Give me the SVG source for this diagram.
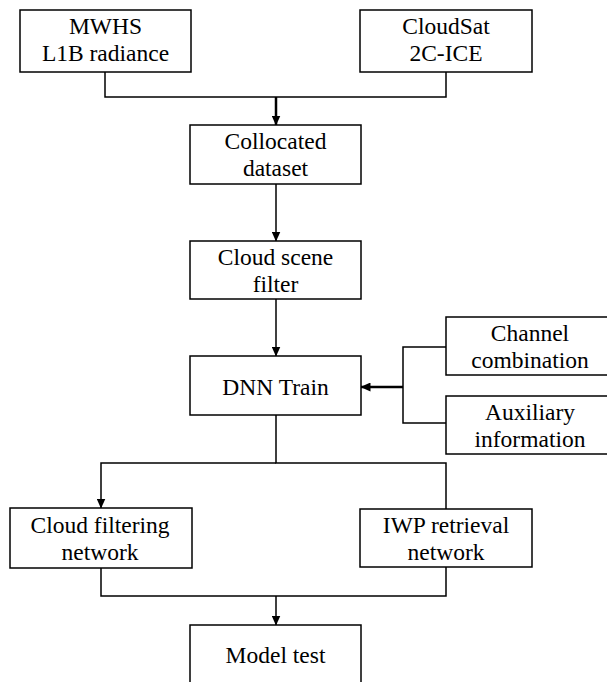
<svg xmlns="http://www.w3.org/2000/svg" width="607" height="682" viewBox="0 0 607 682">
<defs>
<style>
.box{fill:#fff;stroke:#000;stroke-width:1.5}
.t{font-family:"Liberation Serif","Times New Roman",serif;font-size:23.5px;fill:#000;text-anchor:middle}
.c{fill:none;stroke:#000;stroke-width:1.5}
.ct{fill:none;stroke:#000;stroke-width:2.5}
</style>
<marker id="ah" markerWidth="10" markerHeight="9" refX="9.5" refY="4.5" orient="auto" markerUnits="userSpaceOnUse">
<path d="M0,0 L10,4.5 L0,9 z" fill="#000"/>
</marker>
</defs>
<rect width="607" height="682" fill="#fff"/>
<g id="connectors">
<path class="c" d="M105,72 V97 H446 V72"/>
<path class="ct" d="M276,97 V125" marker-end="url(#ah)"/>
<path class="c" d="M276,184 V241" marker-end="url(#ah)"/>
<path class="c" d="M276,299 V356" marker-end="url(#ah)"/>
<path class="c" d="M446,347 H403 V423 H446"/>
<path class="ct" d="M403,387 H361" marker-end="url(#ah)"/>
<path class="c" d="M276,415 V463 H446 V509"/>
<path class="c" d="M276,463 H101 V508" marker-end="url(#ah)"/>
<path class="c" d="M101,568 V596 H446 V567"/>
<path class="c" d="M276,596 V625" marker-end="url(#ah)"/>
</g>
<g id="mwhs"><rect class="box" x="20" y="10" width="171" height="62"/><text class="t" x="105.5" y="34">MWHS</text><text class="t" x="105.5" y="61">L1B radiance</text></g>
<g id="cloudsat"><rect class="box" x="360" y="10" width="172" height="62"/><text class="t" x="446" y="34">CloudSat</text><text class="t" x="446" y="61">2C-ICE</text></g>
<g id="collocated"><rect class="box" x="190" y="125" width="171" height="59"/><text class="t" x="275.5" y="149">Collocated</text><text class="t" x="275.5" y="176">dataset</text></g>
<g id="cloudscene"><rect class="box" x="190" y="241" width="171" height="58"/><text class="t" x="275.5" y="265">Cloud scene</text><text class="t" x="275.5" y="292">filter</text></g>
<g id="dnn"><rect class="box" x="190" y="356" width="171" height="59"/><text class="t" x="275.5" y="395">DNN Train</text></g>
<g id="channel"><rect class="box" x="446" y="317" width="170" height="58"/><text class="t" x="530" y="341">Channel</text><text class="t" x="530" y="368">combination</text></g>
<g id="auxiliary"><rect class="box" x="446" y="396" width="170" height="58"/><text class="t" x="530" y="420">Auxiliary</text><text class="t" x="530" y="447">information</text></g>
<g id="cloudfilter"><rect class="box" x="10" y="508" width="182" height="60"/><text class="t" x="100" y="533">Cloud filtering</text><text class="t" x="100" y="560">network</text></g>
<g id="iwp"><rect class="box" x="360" y="509" width="172" height="58"/><text class="t" x="446" y="533">IWP retrieval</text><text class="t" x="446" y="560">network</text></g>
<g id="modeltest"><rect class="box" x="190" y="625" width="171" height="70"/><text class="t" x="275.5" y="663">Model test</text></g>
</svg>
